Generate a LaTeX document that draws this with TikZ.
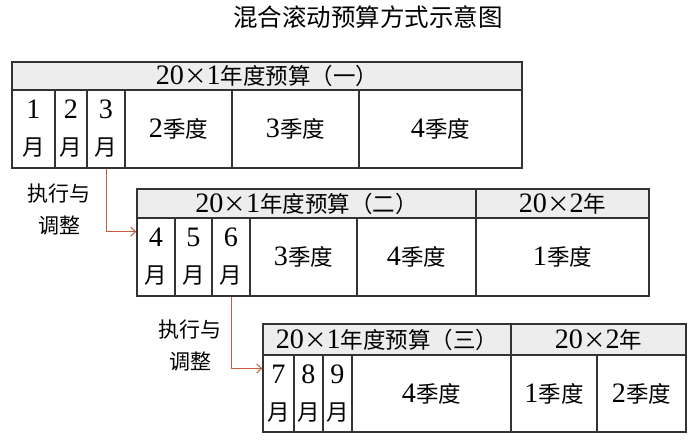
\documentclass[tikz,border=0pt]{standalone}
\usepackage{fontspec}
\setmainfont[Scale=1.25]{Liberation Serif}
\newfontfamily\cjk{Noto Sans CJK SC}
\newcommand\zh[1]{{\cjk #1}}
\usetikzlibrary{arrows.meta,calc}
\definecolor{flowcol}{RGB}{200,95,60}
\tikzset{
  cell/.style={rectangle, draw=black!80, line width=1.2pt, inner sep=0pt,
               align=center, font=\fontsize{22.5}{37}\selectfont},
  head/.style={cell, fill=black!7},
  flow/.style={draw=flowcol, line width=1pt, -{Straight Barb[length=5pt,width=9pt]}},
  note/.style={align=center, inner sep=0pt, font=\fontsize{21}{32}\selectfont}
}

\begin{document}
\begin{tikzpicture}[x=1pt,y=-1pt]
\useasboundingbox (0,0) rectangle (700,439);

\node[inner sep=0pt, font=\fontsize{24.5}{28}\selectfont] (title) at (368,17)
          {\zh{混合滚动预算方式示意图}};

% budget (1)
\node[head, minimum width=510pt, minimum height=28pt] (t1h) at (267,76)
          {20\zh{×}1\zh{年度预算（一）}};
\node[cell, minimum width=43pt, minimum height=78pt] (t1m1) at (33.5,129) {1\\\zh{月}};
\node[cell, minimum width=32pt, minimum height=78pt] (t1m2) at (71,129) {2\\\zh{月}};
\node[cell, minimum width=38pt, minimum height=78pt] (t1m3) at (106,129) {3\\\zh{月}};
\node[cell, minimum width=107pt, minimum height=78pt] (t1q2) at (178.5,129) {2\zh{季度}};
\node[cell, minimum width=127pt, minimum height=78pt] (t1q3) at (295.5,129) {3\zh{季度}};
\node[cell, minimum width=163pt, minimum height=78pt] (t1q4) at (440.5,129) {4\zh{季度}};

% budget (2)
\node[head, minimum width=339pt, minimum height=29pt] (t2h) at (306.5,203.5)
          {20\zh{×}1\zh{年度预算（二）}};
\node[head, minimum width=173pt, minimum height=29pt] (t2y) at (562.5,203.5)
          {20\zh{×}2\zh{年}};
\node[cell, minimum width=38pt, minimum height=78pt] (t2m4) at (156,257) {4\\\zh{月}};
\node[cell, minimum width=37pt, minimum height=78pt] (t2m5) at (193.5,257) {5\\\zh{月}};
\node[cell, minimum width=38pt, minimum height=78pt] (t2m6) at (231,257) {6\\\zh{月}};
\node[cell, minimum width=107pt, minimum height=78pt] (t2q3) at (303.5,257) {3\zh{季度}};
\node[cell, minimum width=119pt, minimum height=78pt] (t2q4) at (416.5,257) {4\zh{季度}};
\node[cell, minimum width=173pt, minimum height=78pt] (t2q1) at (562.5,257) {1\zh{季度}};

% budget (3)
\node[head, minimum width=248pt, minimum height=31pt] (t3h) at (387,339.5)
          {20\zh{×}1\zh{年度预算（三）}};
\node[head, minimum width=175pt, minimum height=31pt] (t3y) at (598.5,339.5)
          {20\zh{×}2\zh{年}};
\node[cell, minimum width=31pt, minimum height=77pt] (t3m7) at (278.5,393.5) {7\\\zh{月}};
\node[cell, minimum width=29pt, minimum height=77pt] (t3m8) at (308.5,393.5) {8\\\zh{月}};
\node[cell, minimum width=29pt, minimum height=77pt] (t3m9) at (337.5,393.5) {9\\\zh{月}};
\node[cell, minimum width=159pt, minimum height=77pt] (t3q4) at (431.5,393.5) {4\zh{季度}};
\node[cell, minimum width=86pt, minimum height=77pt] (t3q1) at (554,393.5) {1\zh{季度}};
\node[cell, minimum width=89pt, minimum height=77pt] (t3q2) at (641.5,393.5) {2\zh{季度}};

% roll forward
\node[note] (adj1) at (59,209) {\zh{执行与}\\\zh{调整}};
\node[note] (adj2) at (190,345.5) {\zh{执行与}\\\zh{调整}};
\draw[flow] (t1m3.south) |- ($(t2m4.north west)!0.18!(t2m4.south west)$);
\draw[flow] (t2m6.south) |- ($(t3m7.north west)!0.18!(t3m7.south west)$);
\end{tikzpicture}
\end{document}
